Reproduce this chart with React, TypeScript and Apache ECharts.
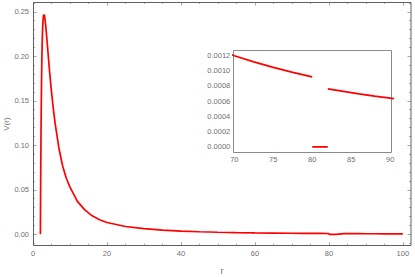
import React, { useEffect, useRef } from "react";
import * as echarts from "echarts";

// r values and V(r) values (main curve, up to r = 80)
const rPart1 = [2, 2.02, 2.05, 2.1, 2.15, 2.2, 2.3, 2.4, 2.5, 2.6, 2.7, 2.8, 2.9, 3.0, 3.1, 3.2, 3.4, 3.6, 3.8, 4.0, 4.5, 5, 5.5, 6, 7, 8, 9, 10, 12, 14, 16, 18, 20, 25, 30, 35, 40, 45, 50, 55, 60, 65, 70, 72.5, 75, 77.5, 80];
const vPart1 = [0, 0.017, 0.0405, 0.0751, 0.1046, 0.1298, 0.1694, 0.1977, 0.2176, 0.2311, 0.2397, 0.2447, 0.2469, 0.2469, 0.2456, 0.2432, 0.236, 0.227, 0.217, 0.207, 0.182, 0.16, 0.141, 0.124, 0.097, 0.077, 0.063, 0.053, 0.037, 0.0275, 0.0208, 0.0164, 0.0133, 0.0088, 0.0063, 0.00466, 0.00359, 0.00285, 0.00232, 0.00192, 0.00162, 0.00138, 0.001195, 0.001115, 0.001043, 0.000977, 0.000918];
// zero segment between r = 80 and r = 82
const rPart2 = [80, 82];
const vPart2 = [0, 0];
// after the step
const rPart3 = [82, 84, 86, 88, 90, 92, 95, 100];
const vPart3 = [0.00076, 0.000727, 0.000696, 0.000667, 0.00064, 0.000613, 0.000576, 0.00052];

// tick labels
const mainXTicks = [0, 20, 40, 60, 80, 100];
const mainYTicks = [0, 0.05, 0.1, 0.15, 0.2, 0.25];
const insetXTicks = [70, 75, 80, 85, 90];
const insetYTicks = [0, 0.0002, 0.0004, 0.0006, 0.0008, 0.001, 0.0012];

const RED = "#ff0000";
const LABEL = "#707070";
const TICK = "#a8a8a8";
const FONT = "Liberation Sans";

const zip = (r: number[], v: number[]) => r.map((x, i) => [x, v[i]]);
const minorBetween = (majors: number[], n: number, before = 0, after = 0) => {
  const step = (majors[1] - majors[0]) / n;
  const out: number[] = [];
  const start = majors[0] - before * step;
  const count = (majors[majors.length - 1] - majors[0]) / step + before + after;
  for (let i = 0; i <= Math.round(count); i++) {
    const v = start + i * step;
    if (!majors.some((m) => Math.abs(m - v) < step * 1e-3)) out.push(v);
  }
  return out;
};

export default function App() {
  const ref = useRef<HTMLDivElement>(null);
  useEffect(() => {
    if (!ref.current) return;
    const chart = echarts.init(ref.current, undefined, { renderer: "svg" });

    const mainData = [...zip(rPart1, vPart1), ...zip(rPart2, vPart2), ...zip(rPart3, vPart3)];
    const insetData: any[] = [
      ...zip(rPart1, vPart1), "-",
      ...zip(rPart2, vPart2), "-",
      ...zip(rPart3, vPart3),
    ];

    const labelStyle = { color: LABEL, fontSize: 7.5, fontFamily: FONT };

    const mkAxis = (grid: number, pos: string, min: number, max: number, ticks: number[], len: number, label?: { margin: number; fmt: (v: number) => string }) => ({
      gridIndex: grid, type: "value", position: pos, min, max,
      axisLine: { show: false, onZero: false },
      splitLine: { show: false },
      axisTick: { show: true, inside: true, length: len, customValues: ticks, lineStyle: { color: TICK, width: 1 } },
      axisLabel: label
        ? { show: true, ...labelStyle, margin: label.margin, customValues: ticks, formatter: label.fmt }
        : { show: false },
    });

    const MX = [0, 102.2];
    const MY = [-0.0128, 0.261];
    const IX = [69.87, 90.2];
    const IY = [-0.00007, 0.00127];

    const mxMinor = minorBetween(mainXTicks, 4, 0, 0);
    const myMinor = minorBetween(mainYTicks, 5, 1, 1);
    const ixMinor = minorBetween(insetXTicks, 5, 0, 0);
    const iyMinor = minorBetween(insetYTicks, 4, 0, 1);

    const fx = (v: number) => String(Math.round(v));

    chart.setOption({
      animation: false,
      backgroundColor: "#ffffff",
      grid: [
        { left: 33, right: 4, top: 2, bottom: 31.3 },
        { left: 233.3, right: 23.3, top: 50, bottom: 124.7 },
      ],
      xAxis: [
        mkAxis(0, "bottom", MX[0], MX[1], mainXTicks, 3.5, { margin: 4, fmt: fx }),
        mkAxis(0, "bottom", MX[0], MX[1], mxMinor, 2),
        mkAxis(0, "top", MX[0], MX[1], mainXTicks, 3.5),
        mkAxis(0, "top", MX[0], MX[1], mxMinor, 2),
        mkAxis(1, "bottom", IX[0], IX[1], insetXTicks, 3, { margin: 3, fmt: fx }),
        mkAxis(1, "bottom", IX[0], IX[1], ixMinor, 1.6),
        mkAxis(1, "top", IX[0], IX[1], insetXTicks, 3),
        mkAxis(1, "top", IX[0], IX[1], ixMinor, 1.6),
      ],
      yAxis: [
        mkAxis(0, "left", MY[0], MY[1], mainYTicks, 3.5, { margin: 4, fmt: (v) => v.toFixed(2) }),
        mkAxis(0, "left", MY[0], MY[1], myMinor, 2),
        mkAxis(0, "right", MY[0], MY[1], mainYTicks, 3.5),
        mkAxis(0, "right", MY[0], MY[1], myMinor, 2),
        mkAxis(1, "left", IY[0], IY[1], insetYTicks, 3, { margin: 3, fmt: (v) => v.toFixed(4) }),
        mkAxis(1, "left", IY[0], IY[1], iyMinor, 1.6),
        mkAxis(1, "right", IY[0], IY[1], insetYTicks, 3),
        mkAxis(1, "right", IY[0], IY[1], iyMinor, 1.6),
      ],
      series: [
        {
          type: "line", xAxisIndex: 0, yAxisIndex: 0, data: mainData,
          showSymbol: false, symbol: "none", clip: false, z: 5,
          lineStyle: { color: RED, width: 1.7 },
        },
        {
          type: "line", xAxisIndex: 4, yAxisIndex: 4, data: insetData,
          showSymbol: false, symbol: "none", clip: true, connectNulls: false, z: 5,
          lineStyle: { color: RED, width: 1.7 },
        },
      ],
      graphic: [
        {
          type: "rect", z: 1,
          shape: { x: 233.5, y: 50.5, width: 158, height: 102 },
          style: { fill: "#ffffff", stroke: "#8a8a8a", lineWidth: 1 },
        },
        {
          type: "rect", z: 100,
          shape: { x: 33.5, y: 2.5, width: 377.5, height: 243 },
          style: { fill: "none", stroke: "#606060", lineWidth: 1 },
        },
        {
          type: "text", z: 100, x: 6, y: 124, rotation: Math.PI / 2,
          style: { text: "V(r)", fill: LABEL, fontSize: 8, fontFamily: FONT, align: "center", verticalAlign: "middle" },
        },
        {
          type: "text", z: 100, x: 222, y: 270.5,
          style: { text: "r", fill: LABEL, fontSize: 9, fontFamily: FONT, align: "center", verticalAlign: "middle" },
        },
      ],
    });
    return () => chart.dispose();
  }, []);
  return <div ref={ref} style={{ position: "fixed", left: 0, top: 0, width: 415, height: 277 }} />;
}
